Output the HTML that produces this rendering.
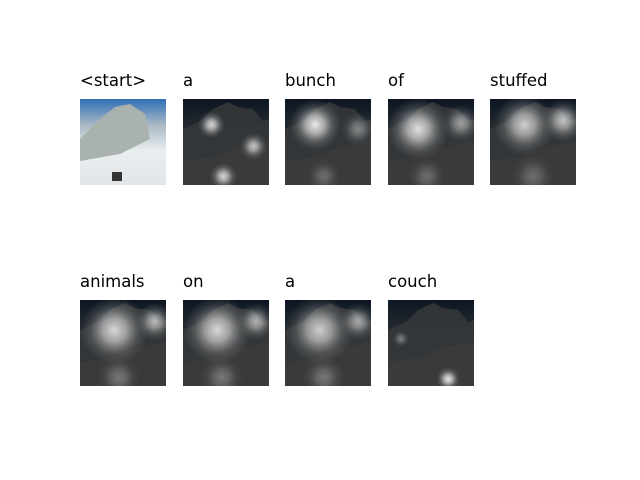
<!DOCTYPE html>
<html><head><meta charset="utf-8"><style>
html,body{margin:0;padding:0;background:#fff;}
svg{display:block;}
text{font-family:"DejaVu Sans","Liberation Sans",sans-serif;font-size:16.5px;fill:#000;}
</style></head><body>
<svg id="fig" width="640" height="480" viewBox="0 0 640 480">
<defs>
  <linearGradient id="dark" x1="0" y1="0" x2="0" y2="1">
    <stop offset="0" stop-color="#0c1622"/>
    <stop offset="0.45" stop-color="#2d3033"/>
    <stop offset="1" stop-color="#2a2a2a"/>
  </linearGradient>
  <linearGradient id="snow" x1="0" y1="0" x2="0" y2="1">
    <stop offset="0" stop-color="#2f6fb8"/>
    <stop offset="0.3" stop-color="#a9b8c4"/>
    <stop offset="0.6" stop-color="#e9eef0"/>
    <stop offset="1" stop-color="#e2e5e8"/>
  </linearGradient>
  <radialGradient id="blob">
    <stop offset="0" stop-color="#f4f4f4" stop-opacity="0.95"/>
    <stop offset="0.35" stop-color="#dcdcdc" stop-opacity="0.7"/>
    <stop offset="0.7" stop-color="#aaa" stop-opacity="0.25"/>
    <stop offset="1" stop-color="#888" stop-opacity="0"/>
  </radialGradient>
  <symbol id="mount-dark" viewBox="0 0 86 86">
    <rect width="86" height="86" fill="url(#dark)"/>
    <path d="M0 30 L18 22 L30 10 L45 3 L55 8 L70 10 L80 22 L86 20 L86 42 L55 48 L30 58 L0 62 Z" fill="#34373a" opacity="0.9"/>
    <path d="M0 62 L30 58 L55 48 L86 42 L86 86 L0 86 Z" fill="#3a3a3a"/>
  </symbol>
</defs>
<g id="panels"></g>
</svg>
<script>
const words = ["<start>","a","bunch","of","stuffed","animals","on","a","couch"];
// attention blobs per word: [cx, cy, r, opacity] fractions of image size
const attention = [
  [],
  [[0.33,0.3,0.16,0.9],[0.82,0.55,0.16,0.8],[0.47,0.9,0.16,0.9]],
  [[0.35,0.3,0.3,1],[0.85,0.35,0.2,0.45],[0.45,0.9,0.2,0.3]],
  [[0.35,0.35,0.36,0.95],[0.85,0.28,0.22,0.6],[0.45,0.9,0.22,0.3]],
  [[0.4,0.3,0.36,0.85],[0.85,0.25,0.25,0.8],[0.5,0.9,0.25,0.3]],
  [[0.4,0.35,0.4,0.9],[0.87,0.25,0.22,0.75],[0.45,0.9,0.25,0.35]],
  [[0.4,0.35,0.4,0.9],[0.85,0.25,0.22,0.7],[0.45,0.9,0.25,0.35]],
  [[0.4,0.35,0.4,0.85],[0.85,0.25,0.22,0.65],[0.45,0.9,0.25,0.35]],
  [[0.7,0.92,0.14,1],[0.15,0.45,0.1,0.4]]
];
const cols=[80,183,285,388,490], rows=[99,300], S=86;
const NS="http://www.w3.org/2000/svg";
const g=document.getElementById('panels');
words.forEach((w,i)=>{
  const x=cols[i%5], y=rows[Math.floor(i/5)];
  const p=document.createElementNS(NS,'g');
  
  
  const t=document.createElementNS(NS,'text');
  t.setAttribute('x',x); t.setAttribute('y',y-13);
  t.textContent=w;
  
  
  p.appendChild(t);
  if(i===0){
    const r=document.createElementNS(NS,'rect');
    r.setAttribute('x',x);r.setAttribute('y',y);r.setAttribute('width',S);r.setAttribute('height',S);
    r.setAttribute('fill','url(#snow)');
    
    
    p.appendChild(r);
    const m=document.createElementNS(NS,'path');
    m.setAttribute('d',`M${x} ${y+40} L${x+20} ${y+20} L${x+35} ${y+8} L${x+50} ${y+5} L${x+65} ${y+15} L${x+70} ${y+40} L${x+40} ${y+55} L${x} ${y+62} Z`);
    m.setAttribute('fill','#a9b2ae');
    p.appendChild(m);
    const pp=document.createElementNS(NS,'rect');
    pp.setAttribute('x',x+32);pp.setAttribute('y',y+73);pp.setAttribute('width',10);pp.setAttribute('height',9);
    pp.setAttribute('fill','#333');
    p.appendChild(pp);
  } else {
    const u=document.createElementNS(NS,'use');
    u.setAttribute('href','#mount-dark');
    u.setAttribute('x',x);u.setAttribute('y',y);u.setAttribute('width',S);u.setAttribute('height',S);
    
    
    p.appendChild(u);
    const cp=document.createElementNS(NS,'clipPath');
    cp.setAttribute('id','c'+i);
    const cr=document.createElementNS(NS,'rect');
    cr.setAttribute('x',x);cr.setAttribute('y',y);cr.setAttribute('width',S);cr.setAttribute('height',S);
    cp.appendChild(cr);p.appendChild(cp);
    const bg=document.createElementNS(NS,'g');
    bg.setAttribute('clip-path',`url(#c${i})`);
    attention[i].forEach(b=>{
      const c=document.createElementNS(NS,'circle');
      c.setAttribute('cx',x+b[0]*S);c.setAttribute('cy',y+b[1]*S);c.setAttribute('r',b[2]*S);
      c.setAttribute('fill','url(#blob)');c.setAttribute('opacity',b[3]);
      
      
      bg.appendChild(c);
    });
    p.appendChild(bg);
  }
  g.appendChild(p);
});
</script>
</body></html>
